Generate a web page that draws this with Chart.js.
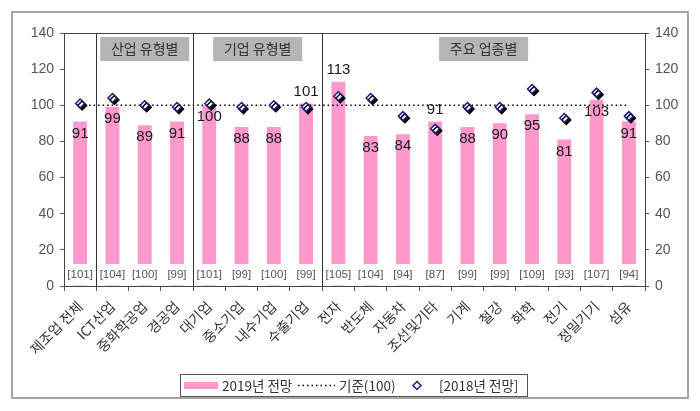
<!DOCTYPE html>
<html>
<head>
<meta charset="utf-8">
<script src="https://cdn.jsdelivr.net/npm/chart.js@4.4.1/dist/chart.umd.min.js"></script>
<style>
  body { margin: 0; background: #fff; }
  #wrap { width: 700px; height: 411px; }
</style>
</head>
<body>
<div id="wrap"><canvas id="chart" width="700" height="411"></canvas></div>
<script>
const categories = ['제조업 전체', 'ICT산업', '중화학공업', '경공업', '대기업', '중소기업', '내수기업', '수출기업',
  '전자', '반도체', '자동차', '조선및기타', '기계', '철강', '화학', '전기', '정밀기기', '섬유'];
const outlook2019 = [91, 99, 89, 91, 100, 88, 88, 101, 113, 83, 84, 91, 88, 90, 95, 81, 103, 91];
const outlook2018 = [101, 104, 100, 99, 101, 99, 100, 99, 105, 104, 94, 87, 99, 99, 109, 93, 107, 94];
const baseline = [100, 100, 100, 100, 100, 100, 100, 100, 100, 100, 100, 100, 100, 100, 100, 100, 100, 100];

const groupNames = ['산업 유형별', '기업 유형별', '주요 업종별'];
const groupFirst = [1, 4, 8];
const groupLast = [3, 7, 17];

const yMin = 0, yMax = 140, yStep = 20;

const barColor = '#ff99cc';
const diamondColor = '#1c1c7c';
const korFont = "'Noto Sans CJK KR', 'Noto Sans', sans-serif";
const numFont = "'Liberation Sans', Arial, sans-serif";

// value labels that sit above the bar instead of inside it
const labelAbove = [7, 8, 11];

// black drop shadow under the diamonds
const shadowPlugin = {
  id: 'shadow',
  beforeDatasetDraw(chart, args) {
    if (args.index !== 0) return;
    const ctx = chart.ctx;
    ctx.save();
    ctx.shadowColor = '#000';
    ctx.shadowBlur = 0;
    ctx.shadowOffsetX = 2;
    ctx.shadowOffsetY = 2;
  },
  afterDatasetDraw(chart, args) {
    if (args.index !== 0) return;
    chart.ctx.restore();
  }
};

const framePlugin = {
  id: 'frame',
  beforeDraw(chart) {
    const ctx = chart.ctx;
    ctx.save();
    ctx.fillStyle = '#fff';
    ctx.fillRect(0, 0, chart.width, chart.height);
    ctx.strokeStyle = '#a6a6a6';
    ctx.lineWidth = 2;
    ctx.strokeRect(12, 12, 676, 386);
    ctx.restore();
  }
};

const decorPlugin = {
  id: 'decor',
  afterDatasetsDraw(chart) {
    const ctx = chart.ctx;
    const area = chart.chartArea;
    const xs = chart.scales.x;
    const bars = chart.getDatasetMeta(2).data;
    ctx.save();

    // bracketed 2018 values at the foot of each bar
    ctx.font = '11.5px ' + numFont;
    ctx.textAlign = 'center';
    ctx.textBaseline = 'middle';
    bars.forEach((bar, i) => {
      ctx.fillStyle = '#fff';
      ctx.fillRect(bar.x - 10, area.bottom - 22, 20, 21);
      ctx.fillStyle = '#555';
      ctx.fillText('[' + outlook2018[i] + ']', bar.x, area.bottom - 11);
    });

    // 2019 values
    ctx.font = '15px ' + numFont;
    ctx.fillStyle = '#1a1a1a';
    bars.forEach((bar, i) => {
      const y = labelAbove.includes(i) ? bar.y - 12 : bar.y + 12;
      ctx.fillText(String(outlook2019[i]), bar.x, y);
    });

    // group separators
    ctx.strokeStyle = '#333';
    ctx.lineWidth = 1;
    groupFirst.forEach(g => {
      const x = Math.round((xs.getPixelForValue(g - 1) + xs.getPixelForValue(g)) / 2) + 0.5;
      ctx.beginPath();
      ctx.moveTo(x, area.top);
      ctx.lineTo(x, area.bottom);
      ctx.stroke();
    });

    // group title boxes
    ctx.font = '14px ' + korFont;
    groupNames.forEach((name, k) => {
      const cx = (xs.getPixelForValue(groupFirst[k]) + xs.getPixelForValue(groupLast[k])) / 2;
      ctx.fillStyle = '#b5b5b5';
      ctx.fillRect(cx - 44.5, area.top + 4, 89, 24);
      ctx.fillStyle = '#333';
      ctx.fillText(name, cx, area.top + 16);
    });

    // plot border
    ctx.strokeStyle = '#444';
    ctx.strokeRect(Math.round(area.left) + 0.5, Math.round(area.top) + 0.5,
      Math.round(area.right - area.left), Math.round(area.bottom - area.top));
    ctx.restore();
  },
  afterDraw(chart) {
    // legend
    const ctx = chart.ctx;
    ctx.save();
    ctx.strokeStyle = '#555';
    ctx.lineWidth = 1;
    ctx.strokeRect(180.5, 374.5, 347, 22);
    const cy = 385.5;
    ctx.font = '13.5px ' + korFont;
    ctx.textBaseline = 'middle';
    ctx.textAlign = 'left';

    ctx.fillStyle = barColor;
    ctx.fillRect(184, 382, 34, 7);
    ctx.fillStyle = '#333';
    ctx.fillText('2019년 전망', 222, cy);

    ctx.strokeStyle = '#000';
    ctx.lineWidth = 1.5;
    ctx.setLineDash([1.5, 3]);
    ctx.beginPath();
    ctx.moveTo(298, cy);
    ctx.lineTo(335, cy);
    ctx.stroke();
    ctx.setLineDash([]);
    ctx.fillText('기준(100)', 339, cy);

    ctx.strokeStyle = diamondColor;
    ctx.beginPath();
    ctx.moveTo(417, cy - 4);
    ctx.lineTo(421, cy);
    ctx.lineTo(417, cy + 4);
    ctx.lineTo(413, cy);
    ctx.closePath();
    ctx.stroke();
    ctx.fillText('[2018년 전망]', 439, cy);
    ctx.restore();
  }
};

const yAxis = (pos, width) => ({
  position: pos,
  min: yMin,
  max: yMax,
  ticks: { stepSize: yStep, color: '#555', font: { family: numFont, size: 14 }, padding: 6 },
  grid: { drawOnChartArea: false, tickLength: 4, color: '#555' },
  border: { color: '#444' },
  afterFit(scale) { scale.width = width; }
});

new Chart(document.getElementById('chart'), {
  data: {
    labels: categories,
    datasets: [
      {
        type: 'line',
        label: '[2018년 전망]',
        data: outlook2018,
        showLine: false,
        pointStyle: 'rectRot',
        pointRadius: 4.5,
        pointBackgroundColor: '#fff',
        pointBorderColor: diamondColor,
        pointBorderWidth: 1.5,
        order: 1
      },
      {
        type: 'line',
        label: '기준(100)',
        data: baseline,
        borderColor: '#000',
        borderWidth: 1.5,
        borderDash: [1.5, 3],
        pointRadius: 0,
        order: 2
      },
      {
        type: 'bar',
        label: '2019년 전망',
        data: outlook2019,
        backgroundColor: barColor,
        barPercentage: 0.43,
        categoryPercentage: 1,
        order: 3
      }
    ]
  },
  options: {
    responsive: false,
    animation: false,
    devicePixelRatio: 1,
    layout: { padding: { top: 33, left: 0, right: 0, bottom: 0 } },
    plugins: {
      legend: { display: false },
      tooltip: { enabled: false }
    },
    scales: {
      x: {
        offset: true,
        ticks: {
          minRotation: 45,
          maxRotation: 45,
          autoSkip: false,
          color: '#333',
          font: { family: korFont, size: 14 },
          padding: 7
        },
        grid: { offset: true, drawOnChartArea: false, tickLength: 5, color: '#555' },
        border: { color: '#444' },
        afterFit(scale) {
          scale.height = 125;
          scale.paddingLeft = 0;
          scale.paddingRight = 0;
        }
      },
      y: yAxis('left', 64),
      y2: yAxis('right', 55)
    }
  },
  plugins: [framePlugin, shadowPlugin, decorPlugin]
});
</script>
</body>
</html>
